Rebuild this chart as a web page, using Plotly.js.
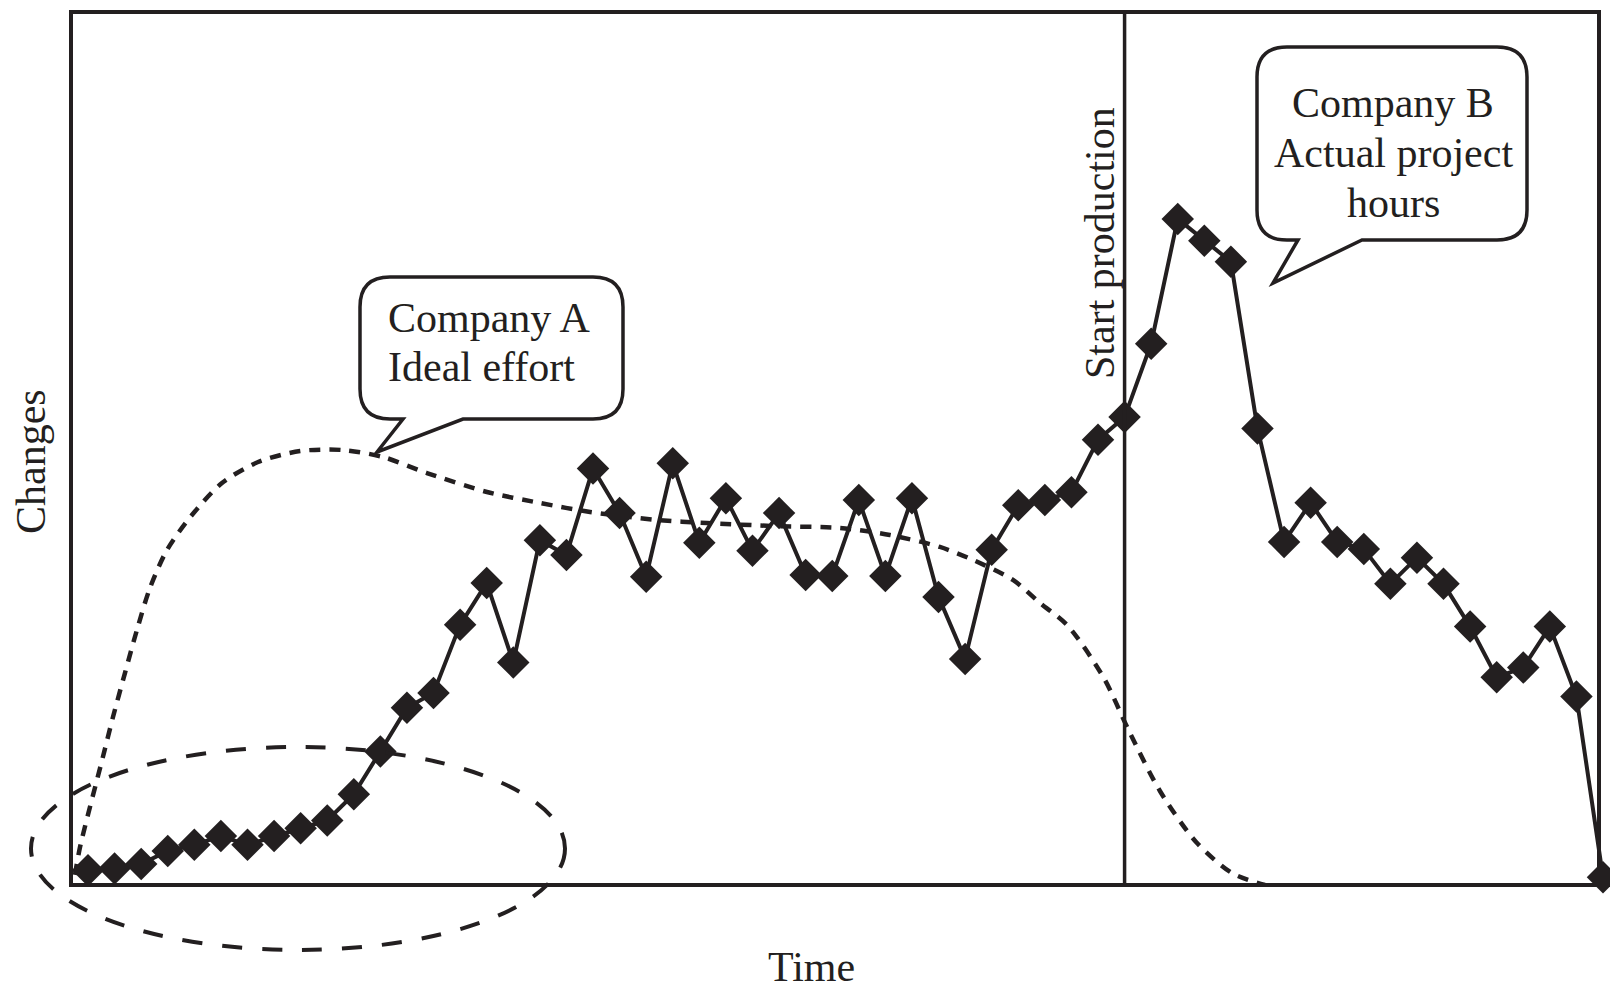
<!DOCTYPE html>
<html>
<head>
<meta charset="utf-8">
<script src="https://cdn.plot.ly/plotly-3.0.1.min.js"></script>
<style>html,body{margin:0;padding:0;background:#fff;}#chart{width:1610px;height:993px;}</style>
</head>
<body>
<div id="chart"></div>
<script>
// ---- Data ----
// Company B: actual project hours / changes per time step (58 steps)
const timeSteps = [0,1,2,3,4,5,6,7,8,9,10,11,12,13,14,15,16,17,18,19,20,21,22,23,24,25,26,27,28,29,30,31,32,33,34,35,36,37,38,39,40,41,42,43,44,45,46,47,48,49,50,51,52,53,54,55,56,57];
const actualChanges = [1.7,1.9,2.4,3.9,4.6,5.6,4.6,5.6,6.5,7.4,10.4,15.3,20.3,22.0,29.8,34.6,25.5,39.5,37.8,47.7,42.6,35.3,48.3,39.2,44.3,38.3,42.6,35.5,35.4,44.1,35.4,44.3,33.0,25.9,38.4,43.5,44.1,45.0,51.0,53.6,62.0,76.3,73.8,71.4,52.3,39.3,43.8,39.3,38.5,34.5,37.5,34.5,29.6,23.8,24.9,29.6,21.6,0.9];
// Company A: ideal effort curve (sampled along the dotted curve)
const idealTime = [-0.49,-0.30,0.56,0.94,1.39,1.84,2.33,2.97,3.91,5.04,6.40,7.98,9.56,11.10,12.75,15.01,17.0,18.89,21.41,23.29,25.77,28.29,30.17,32.05,33.30,34.80,35.82,36.87,38.22,39.13,40.33,41.69,43.04,44.28];
const idealEffort = [1.15,4.35,14.66,19.24,24.28,29.21,34.02,38.37,42.38,46.05,48.45,49.71,49.83,49.03,47.19,45.02,43.76,42.73,41.81,41.47,41.12,40.89,40.09,38.72,37.23,34.94,32.30,29.67,23.71,17.87,10.77,4.93,1.37,0.0];
// Event marker
const startProductionStep = 39;
// Texts
const xTitle = "Time";
const yTitle = "Changes";
const eventLabel = "Start production";
const calloutA = ["Company A", "Ideal effort"];
const calloutB = ["Company B", "Actual project", "hours"];

// ---- Layout helpers (pixel -> paper) ----
const W = 1610, H = 993;
const M = {l: 71, r: 7, t: 12, b: 108};
const PW = W - M.l - M.r, PH = H - M.t - M.b;
const px = x => (x - M.l) / PW;
const py = y => (H - M.b - y) / PH;
const P = (x, y) => px(x).toFixed(5) + ',' + py(y).toFixed(5);
const INK = '#231f20';
const FONT = {family: 'Liberation Serif, Times New Roman, serif', size: 42, color: INK};
const FRAME = {x0: 71, x1: 1599, y0: 12, y1: 885};

function bubblePath(x0, y0, x1, y1, r, tb0, tb1, tx, ty) {
  return 'M' + P(x0 + r, y0) +
    ' L' + P(x1 - r, y0) + ' Q' + P(x1, y0) + ' ' + P(x1, y0 + r) +
    ' L' + P(x1, y1 - r) + ' Q' + P(x1, y1) + ' ' + P(x1 - r, y1) +
    ' L' + P(tb1, y1) + ' L' + P(tx, ty) + ' L' + P(tb0, y1) +
    ' L' + P(x0 + r, y1) + ' Q' + P(x0, y1) + ' ' + P(x0, y1 - r) +
    ' L' + P(x0, y0 + r) + ' Q' + P(x0, y0) + ' ' + P(x0 + r, y0) + ' Z';
}

const traces = [
  {
    x: idealTime, y: idealEffort, type: 'scatter', mode: 'lines',
    line: {color: INK, width: 4.5, dash: '11px,9px', shape: 'spline', smoothing: 0.8},
    cliponaxis: false, hoverinfo: 'skip', showlegend: false
  },
  {
    x: timeSteps, y: actualChanges, type: 'scatter', mode: 'lines+markers',
    line: {color: INK, width: 4},
    marker: {symbol: 'diamond', size: 25, color: INK, line: {width: 0}},
    cliponaxis: false, hoverinfo: 'skip', showlegend: false
  }
];

const ann = [];
function addText(text, x, y, xanchor, angle) {
  ann.push({text: text, xref: 'paper', yref: 'paper', x: px(x), y: py(y),
    xanchor: xanchor || 'center', yanchor: 'middle', showarrow: false,
    textangle: angle || 0, font: FONT, borderpad: 0});
}
addText(calloutA[0], 387, 318, 'left');
addText(calloutA[1], 387, 367, 'left');
addText(calloutB[0], 1393, 103);
addText(calloutB[1], 1393, 153);
addText(calloutB[2], 1393, 203);
addText(eventLabel, 1100, 243, 'center', -90);
addText(yTitle, 31, 462, 'center', -90);
addText(xTitle, 811, 967);

const shapes = [
  {type: 'rect', xref: 'paper', yref: 'paper', x0: px(FRAME.x0), x1: px(FRAME.x1), y0: py(FRAME.y1), y1: py(FRAME.y0),
   line: {color: INK, width: 4}, fillcolor: 'rgba(0,0,0,0)'},
  {type: 'line', xref: 'x', yref: 'paper', x0: startProductionStep, x1: startProductionStep, y0: 0, y1: py(FRAME.y0),
   line: {color: INK, width: 3.5}},
  {type: 'circle', xref: 'paper', yref: 'paper', x0: px(31), x1: px(565), y0: py(950), y1: py(747),
   line: {color: INK, width: 4, dash: '20px,20px'}},
  {type: 'path', xref: 'paper', yref: 'paper', path: bubblePath(360, 277, 623, 419, 30, 403, 463, 377, 452),
   fillcolor: '#ffffff', line: {color: INK, width: 3.5}},
  {type: 'path', xref: 'paper', yref: 'paper', path: bubblePath(1257, 47, 1527, 240, 30, 1298, 1362, 1273, 283),
   fillcolor: '#ffffff', line: {color: INK, width: 3.5}}
];

const axisCommon = {showgrid: false, zeroline: false, showticklabels: false, ticks: '',
  showline: false, fixedrange: true};

const layout = {
  width: W, height: H, margin: M,
  paper_bgcolor: '#ffffff', plot_bgcolor: 'rgba(0,0,0,0)',
  showlegend: false,
  xaxis: Object.assign({range: [-0.64, 57.0]}, axisCommon),
  yaxis: Object.assign({range: [0, 100]}, axisCommon),
  shapes: shapes,
  annotations: ann,
  font: FONT
};

Plotly.newPlot('chart', traces, layout, {staticPlot: true, displayModeBar: false});
</script>
</body>
</html>
